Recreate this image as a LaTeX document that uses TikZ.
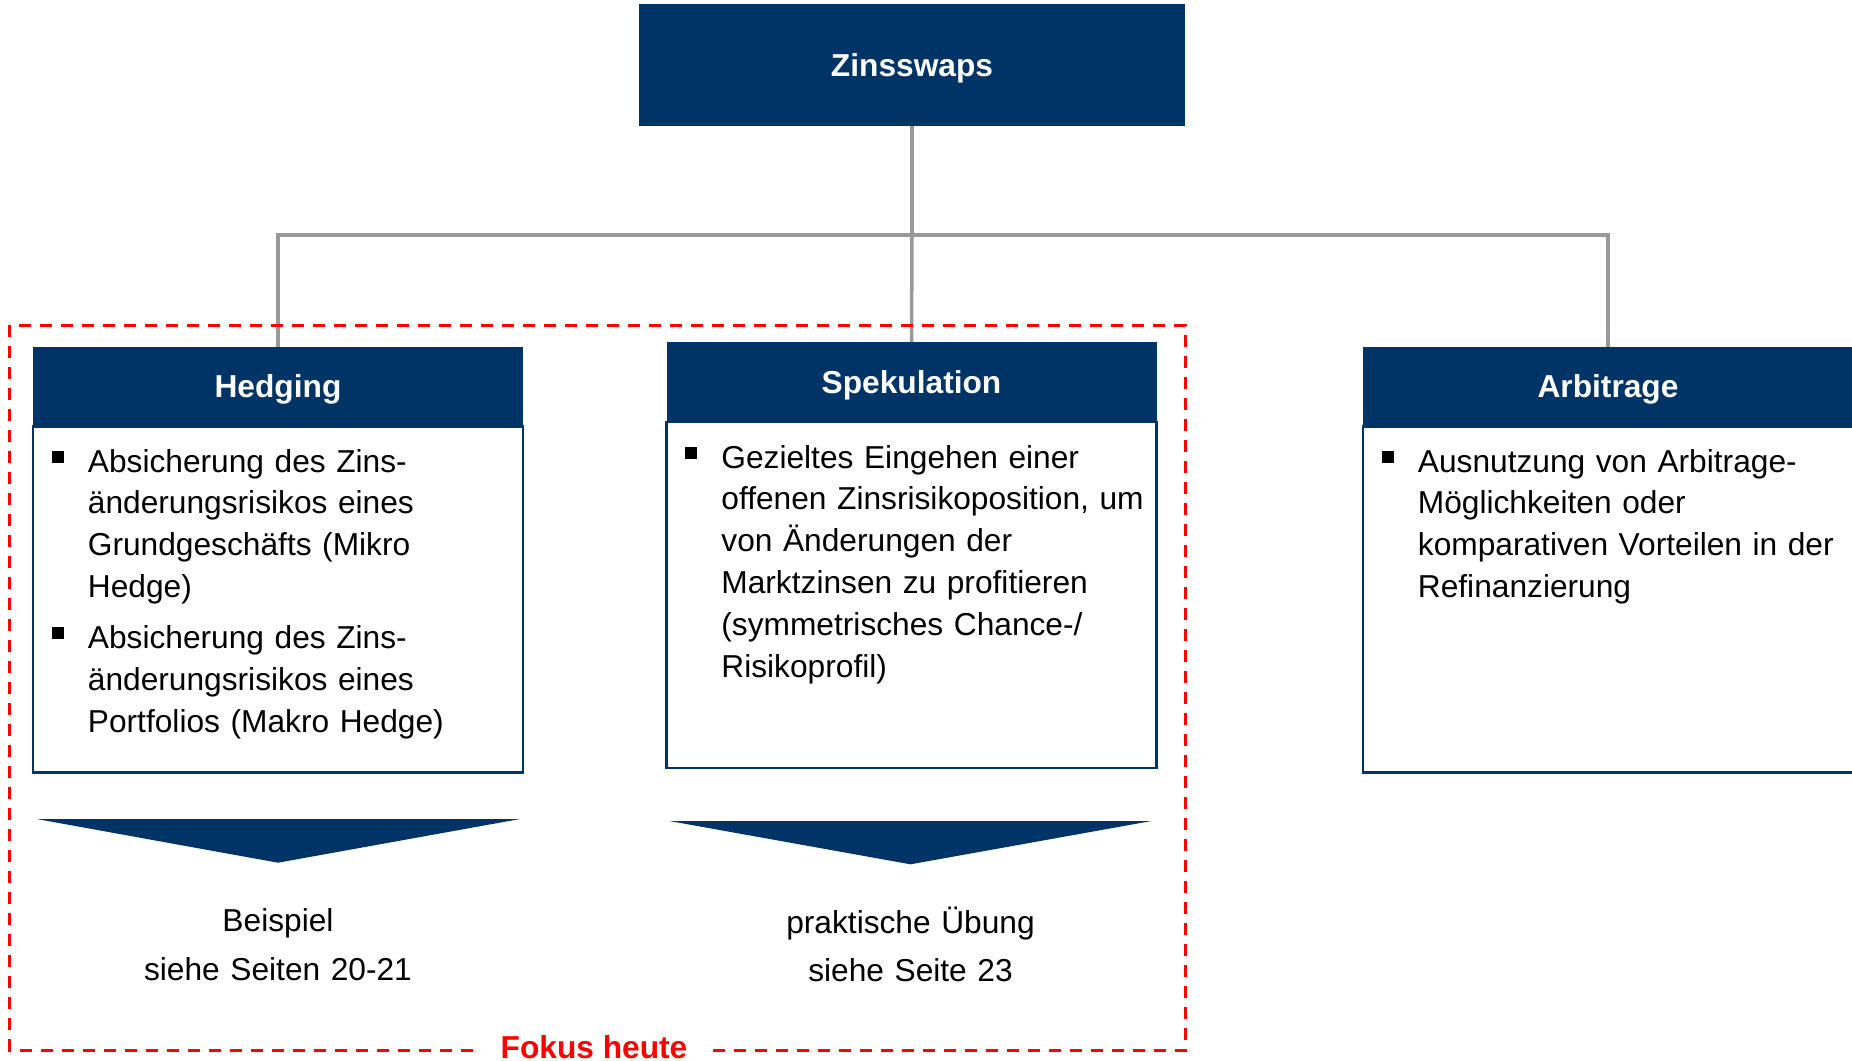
\documentclass[tikz,border=0pt]{standalone}
\usepackage{fontspec}
\setmainfont{Liberation Sans}
\usepackage{tikz}
\usetikzlibrary{positioning,calc}
\definecolor{dunkelblau}{HTML}{003366}
\definecolor{grau}{HTML}{999999}
\definecolor{fokusrot}{HTML}{FF0000}
\newcommand{\punkt}[1]{\noindent\hangindent=36pt\hangafter=1%
  \makebox[36pt][l]{\rule[9pt]{12pt}{12pt}}#1\par}
\tikzset{
  kopf/.style={rectangle, fill=dunkelblau, text=white, text depth=0pt,
    minimum width=490pt, minimum height=80pt, inner sep=0pt, outer sep=0pt,
    font=\fontsize{31.7}{41.9}\selectfont\bfseries},
  rumpf/.style={rectangle, draw=dunkelblau, line width=2.5pt, fill=white,
    minimum width=490pt, minimum height=346pt, inner sep=0pt, outer sep=0pt},
  punkte/.style={text width=480pt, align=left, inner sep=0pt,
    font=\fontsize{31.7}{41.9}\selectfont},
  verweis/.style={text width=400pt, align=center, inner sep=0pt,
    font=\fontsize{31.7}{48.7}\selectfont},
  linie/.style={draw=grau, line width=3.5pt},
  rahmen/.style={draw=fokusrot, line width=3pt, dash pattern=on 12pt off 9pt},
  fokus/.style={fill=white, text=fokusrot, inner xsep=25pt, inner ysep=4pt,
    font=\fontsize{31.7}{38}\selectfont\bfseries},
  pfeil/.style={fill=dunkelblau},
}

\begin{document}
\begin{tikzpicture}[x=1pt, y=1pt]
  \useasboundingbox (0,0) rectangle (1852,-1060);
  % Kopf und Zweige
  \node[kopf, minimum width=546pt, minimum height=122pt] (zinsswaps) at (912,-65) {Zinsswaps};
  \node[kopf] (hedging) at (278,-386.5) {Hedging};
  \node[kopf] (spekulation) at (911.5,-382) {Spekulation};
  \node[kopf] (arbitrage) at (1608,-386.5) {Arbitrage};
  \node[rumpf, below=0pt of hedging] (hedgingbox) {};
  \node[rumpf, below=0pt of spekulation] (spekulationbox) {};
  \node[rumpf, below=0pt of arbitrage] (arbitragebox) {};
  \coordinate (verteiler) at (912,-235);
  \draw[linie] (zinsswaps.south) -- (verteiler);
  \draw[linie] (verteiler) -| (hedging.north);
  \draw[linie] (verteiler) -- (spekulation.north);
  \draw[linie] (verteiler) -| (arbitrage.north);
  % Inhalte
  \node[punkte, anchor=base west] (hedgingtext) at ($(hedgingbox.north west)+(18.7,-45.5)$)
    {\punkt{Absicherung des Zins-\newline änderungsrisikos eines\newline Grundgeschäfts (Mikro\newline Hedge)}
     \vspace{8.7pt}
     \punkt{Absicherung des Zins-\newline änderungsrisikos eines\newline Portfolios (Makro Hedge)}};
  \node[punkte, anchor=base west] (spekulationtext) at ($(spekulationbox.north west)+(18.7,-46)$)
    {\punkt{Gezieltes Eingehen einer\newline offenen Zinsrisikoposition, um\newline von Änderungen der\newline Marktzinsen zu profitieren\newline (symmetrisches Chance-/\newline Risikoprofil)}};
  \node[punkte, anchor=base west] (arbitragetext) at ($(arbitragebox.north west)+(18.7,-45.5)$)
    {\punkt{Ausnutzung von Arbitrage-\newline Möglichkeiten oder\newline komparativen Vorteilen in der\newline Refinanzierung}};
  % Pfeile und Verweise
  \fill[pfeil] (36.7,-819) -- (520,-819) -- (278,-862.7) -- cycle;
  \fill[pfeil] (669.5,-821) -- (1151.5,-821) -- (910.5,-864.3) -- cycle;
  \node[verweis, anchor=base] (beispiel) at (278,-931.7) {Beispiel\\siehe Seiten 20-21};
  \node[verweis, anchor=base] (uebung) at (910.5,-933) {praktische Übung\\siehe Seite 23};
  % Fokus
  \draw[rahmen] (9.5,-325) rectangle (1185,-1050);
  \node[fokus, anchor=base] (fokustext) at (594,-1058) {Fokus heute};
\end{tikzpicture}
\end{document}
